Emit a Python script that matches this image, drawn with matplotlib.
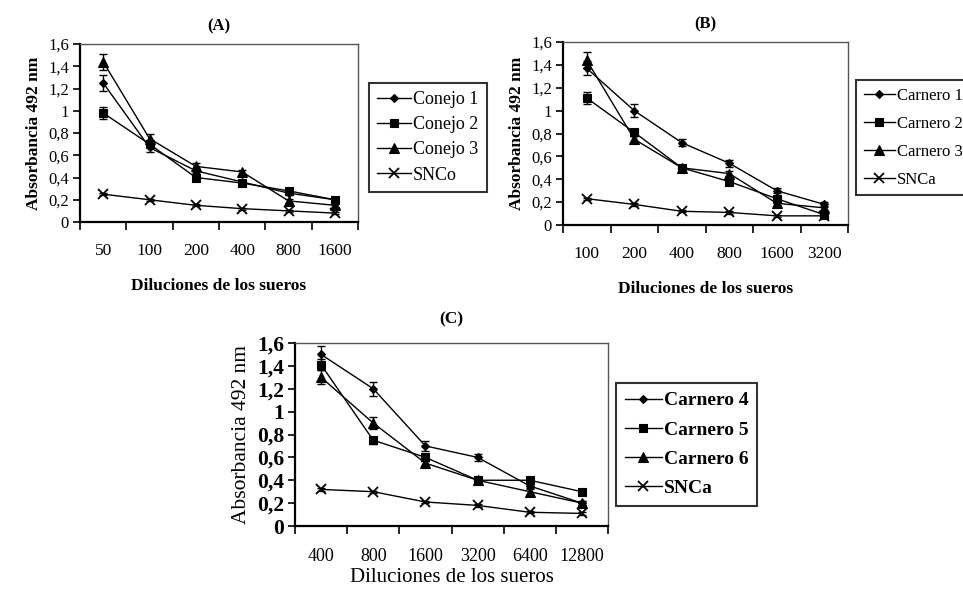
import matplotlib
matplotlib.use("Agg")
import matplotlib.pyplot as plt
import numpy as np

plt.rcParams['font.family'] = ['Liberation Serif', 'DejaVu Serif']

# ---- Panel A: rabbit sera ----
dil_a = ["50", "100", "200", "400", "800", "1600"]
conejo1 = [1.25, 0.67, 0.46, 0.36, 0.26, 0.20]
conejo1_err = [0.07, 0.04, 0.02, 0.02, 0.02, 0.02]
conejo2 = [0.98, 0.70, 0.40, 0.35, 0.28, 0.20]
conejo2_err = [0.05, 0.03, 0.02, 0.02, 0.02, 0.02]
conejo3 = [1.44, 0.75, 0.50, 0.45, 0.19, 0.15]
conejo3_err = [0.07, 0.04, 0.03, 0.02, 0.02, 0.02]
snco = [0.25, 0.20, 0.15, 0.12, 0.10, 0.08]
snco_err = [0.01, 0.01, 0.01, 0.01, 0.01, 0.01]

# ---- Panel B: sheep sera 1-3 ----
dil_b = ["100", "200", "400", "800", "1600", "3200"]
carnero1 = [1.37, 1.00, 0.72, 0.54, 0.30, 0.18]
carnero1_err = [0.06, 0.06, 0.03, 0.03, 0.02, 0.02]
carnero2 = [1.11, 0.81, 0.50, 0.38, 0.23, 0.09]
carnero2_err = [0.05, 0.03, 0.02, 0.02, 0.02, 0.02]
carnero3 = [1.44, 0.75, 0.50, 0.45, 0.19, 0.15]
carnero3_err = [0.07, 0.03, 0.02, 0.02, 0.02, 0.02]
snca_b = [0.23, 0.18, 0.12, 0.11, 0.08, 0.08]
snca_b_err = [0.01, 0.01, 0.01, 0.01, 0.01, 0.01]

# ---- Panel C: sheep sera 4-6 ----
dil_c = ["400", "800", "1600", "3200", "6400", "12800"]
carnero4 = [1.50, 1.20, 0.70, 0.60, 0.35, 0.20]
carnero4_err = [0.07, 0.06, 0.04, 0.03, 0.02, 0.02]
carnero5 = [1.41, 0.75, 0.60, 0.40, 0.40, 0.30]
carnero5_err = [0.05, 0.03, 0.03, 0.02, 0.02, 0.02]
carnero6 = [1.30, 0.90, 0.55, 0.40, 0.30, 0.20]
carnero6_err = [0.06, 0.05, 0.02, 0.02, 0.02, 0.02]
snca_c = [0.32, 0.30, 0.21, 0.18, 0.12, 0.11]
snca_c_err = [0.01, 0.01, 0.01, 0.01, 0.01, 0.01]

yticks = [0, 0.2, 0.4, 0.6, 0.8, 1.0, 1.2, 1.4, 1.6]
ytick_labels = ["0", "0,2", "0,4", "0,6", "0,8", "1", "1,2", "1,4", "1,6"]
markers = ["D", "s", "^", "x"]
msizes = [4.5, 5.5, 6.5, 7]

W, H = 963, 593
fig = plt.figure(figsize=(W / 100, H / 100), dpi=100)


def box(l, r, t, b):
    return [l / W, (H - b) / H, (r - l) / W, (b - t) / H]


def panel(rect, title, cats, series, errs, names, leg_xy,
          tick_fs, ytick_fs, ytick_w, ylab_fs, ylab_w, xlab_fs, xlab_w,
          leg_fs, leg_w, leg_space, xtick_pad, xlab_pad, title_pad, title_fs):
    ax = fig.add_axes(rect)
    x = np.arange(len(cats)) + 0.5
    handles = []
    for vals, err, name, mk, ms in zip(series, errs, names, markers, msizes):
        ax.errorbar(x, vals, yerr=err, color="black", lw=1.0, elinewidth=1.0,
                    capsize=3, capthick=1.0, fmt="none", zorder=2)
        h, = ax.plot(x, vals, color="black", lw=1.0, marker=mk, markersize=ms,
                     markeredgewidth=1.3 if mk == "x" else 0.8,
                     markerfacecolor="black", markeredgecolor="black",
                     label=name, zorder=3)
        handles.append(h)
    ax.set_xlim(0, len(cats))
    ax.set_ylim(0, 1.6)
    ax.set_xticks(np.arange(len(cats) + 1))
    ax.set_xticklabels([])
    ax.set_xticks(x, minor=True)
    ax.set_xticklabels(cats, minor=True, fontsize=tick_fs)
    ax.tick_params(axis="x", which="minor", length=0, pad=xtick_pad)
    ax.tick_params(axis="x", which="major", length=6, width=1.2, direction="out")
    ax.set_yticks(yticks)
    ax.set_yticklabels(ytick_labels, fontsize=ytick_fs, fontweight=ytick_w)
    ax.tick_params(axis="y", length=5, width=1.2, direction="out", pad=3)
    for side in ["top", "right"]:
        ax.spines[side].set_linewidth(1.0)
        ax.spines[side].set_color("#555555")
    for side in ["left", "bottom"]:
        ax.spines[side].set_linewidth(1.6)
    ax.set_ylabel("Absorbancia 492 nm", fontsize=ylab_fs, fontweight=ylab_w, labelpad=4)
    ax.set_xlabel("Diluciones de los sueros", fontsize=xlab_fs, fontweight=xlab_w,
                  labelpad=xlab_pad)
    ax.set_title(title, fontsize=title_fs, fontweight="bold", pad=title_pad)
    leg = fig.legend(handles=handles, loc="upper left",
                     bbox_to_anchor=(leg_xy[0] / W, 1 - leg_xy[1] / H),
                     frameon=True, fancybox=False, edgecolor="black",
                     prop={"size": leg_fs, "weight": leg_w},
                     handlelength=1.9, handletextpad=0.1, labelspacing=leg_space,
                     borderpad=0.45, borderaxespad=0)
    leg.get_frame().set_linewidth(1.5)
    return ax


panel(box(80, 358, 44, 222), "(A)", dil_a,
      [conejo1, conejo2, conejo3, snco],
      [conejo1_err, conejo2_err, conejo3_err, snco_err],
      ["Conejo 1", "Conejo 2", "Conejo 3", "SNCo"], (369, 83),
      tick_fs=12.5, ytick_fs=12, ytick_w="normal", ylab_fs=12.5, ylab_w="bold",
      xlab_fs=12.5, xlab_w="bold", leg_fs=13, leg_w="normal", leg_space=0.45,
      xtick_pad=15, xlab_pad=14, title_pad=10, title_fs=12)

panel(box(563, 848, 42, 225), "(B)", dil_b,
      [carnero1, carnero2, carnero3, snca_b],
      [carnero1_err, carnero2_err, carnero3_err, snca_b_err],
      ["Carnero 1", "Carnero 2", "Carnero 3", "SNCa"], (856, 80),
      tick_fs=12.5, ytick_fs=12, ytick_w="normal", ylab_fs=12.5, ylab_w="bold",
      xlab_fs=12.5, xlab_w="bold", leg_fs=12, leg_w="normal", leg_space=0.72,
      xtick_pad=15, xlab_pad=14, title_pad=10, title_fs=12)

panel(box(295, 608, 343, 526), "(C)", dil_c,
      [carnero4, carnero5, carnero6, snca_c],
      [carnero4_err, carnero5_err, carnero6_err, snca_c_err],
      ["Carnero 4", "Carnero 5", "Carnero 6", "SNCa"], (616, 383),
      tick_fs=13, ytick_fs=15.5, ytick_w="bold", ylab_fs=15.5, ylab_w="normal",
      xlab_fs=15, xlab_w="normal", leg_fs=14, leg_w="bold", leg_space=0.6,
      xtick_pad=16, xlab_pad=2, title_pad=14, title_fs=12.5)

fig.savefig("out.png", dpi=100)
